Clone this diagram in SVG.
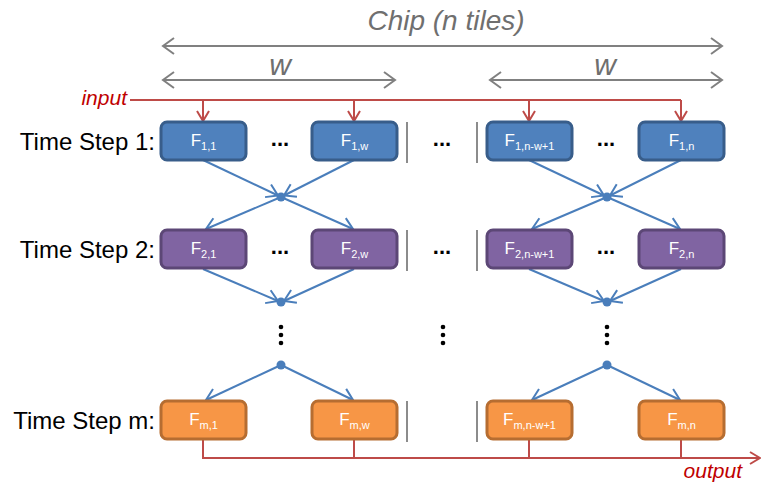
<svg xmlns="http://www.w3.org/2000/svg" width="761" height="486" viewBox="0 0 761 486">
<defs>
<style>
.lbl{font-family:"Liberation Sans",Arial,sans-serif;font-size:24px;fill:#000}
.ttl{font-family:"Liberation Sans",Arial,sans-serif;font-style:italic;fill:#6f6f6f}
.red{font-family:"Liberation Sans",Arial,sans-serif;font-style:italic;font-size:21px;fill:#c00000}
.ft{font-family:"Liberation Sans",Arial,sans-serif;font-size:17px;fill:#fff;text-anchor:middle}
.sub{font-size:11px}
.dots{font-family:"Liberation Sans",Arial,sans-serif;font-size:22px;font-weight:bold;fill:#000;text-anchor:middle}
.b1{fill:#4f81bd;stroke:#385d8a;stroke-width:3}
.b2{fill:#8064a2;stroke:#5c4776;stroke-width:3}
.b3{fill:#f79646;stroke:#b66d31;stroke-width:3}
.sep{stroke:#8c8c8c;stroke-width:2}
.gray{stroke:#808080;stroke-width:2;fill:none}
.blue{stroke:#4a7ebb;stroke-width:2;fill:none}
.redl{stroke:#be4b48;stroke-width:2;fill:none}
</style>
<marker id="ag" markerUnits="userSpaceOnUse" markerWidth="14" markerHeight="20" refX="12" refY="10" orient="auto-start-reverse"><path d="M1,2 L12,10 L1,18" fill="none" stroke="#808080" stroke-width="2"/></marker>
<marker id="ab" markerUnits="userSpaceOnUse" markerWidth="14" markerHeight="20" refX="12" refY="10" orient="auto"><path d="M1,3 L12,10 L1,17" fill="none" stroke="#4a7ebb" stroke-width="2"/></marker>
<marker id="ar" markerUnits="userSpaceOnUse" markerWidth="14" markerHeight="18" refX="12" refY="9" orient="auto"><path d="M2,3 L12,9 L2,15" fill="none" stroke="#be4b48" stroke-width="2"/></marker>
</defs>
<rect width="761" height="486" fill="#fff"/>

<g id="titles">
<text class="ttl" x="446" y="30" font-size="28" text-anchor="middle">Chip (n tiles)</text>
<text class="ttl" x="280" y="75" font-size="30" text-anchor="middle">w</text>
<text class="ttl" x="605" y="75" font-size="30" text-anchor="middle">w</text>
<text class="red" x="127" y="105" text-anchor="end">input</text>
<text class="red" x="742" y="478" text-anchor="end">output</text>
<text class="lbl" x="155" y="150" text-anchor="end">Time Step 1:</text>
<text class="lbl" x="155" y="258" text-anchor="end">Time Step 2:</text>
<text class="lbl" x="155" y="429" text-anchor="end">Time Step m:</text>
</g>

<g id="connectors">
<line class="gray" x1="163" y1="46" x2="722" y2="46" marker-start="url(#ag)" marker-end="url(#ag)"/>
<line class="gray" x1="163" y1="80" x2="395" y2="80" marker-start="url(#ag)" marker-end="url(#ag)"/>
<line class="gray" x1="490" y1="80" x2="722" y2="80" marker-start="url(#ag)" marker-end="url(#ag)"/>
<polyline class="redl" points="130,100 681,100"/>
<line class="redl" x1="203" y1="100" x2="203" y2="121" marker-end="url(#ar)"/>
<line class="redl" x1="354" y1="100" x2="354" y2="121" marker-end="url(#ar)"/>
<line class="redl" x1="529" y1="100" x2="529" y2="121" marker-end="url(#ar)"/>
<line class="redl" x1="681" y1="100" x2="681" y2="121" marker-end="url(#ar)"/>
<line class="blue" x1="203" y1="160" x2="278" y2="195.5" marker-end="url(#ab)"/>
<line class="blue" x1="354" y1="160" x2="284" y2="195.5" marker-end="url(#ab)"/>
<line class="blue" x1="529" y1="160" x2="604" y2="195.5" marker-end="url(#ab)"/>
<line class="blue" x1="681" y1="160" x2="610" y2="195.5" marker-end="url(#ab)"/>
<line class="blue" x1="281" y1="197" x2="206" y2="229" marker-end="url(#ab)"/>
<line class="blue" x1="281" y1="197" x2="353" y2="229" marker-end="url(#ab)"/>
<line class="blue" x1="607" y1="197" x2="532" y2="229" marker-end="url(#ab)"/>
<line class="blue" x1="607" y1="197" x2="680" y2="229" marker-end="url(#ab)"/>
<line class="blue" x1="203" y1="269" x2="278" y2="301" marker-end="url(#ab)"/>
<line class="blue" x1="354" y1="269" x2="284" y2="301" marker-end="url(#ab)"/>
<line class="blue" x1="529" y1="269" x2="604" y2="301" marker-end="url(#ab)"/>
<line class="blue" x1="681" y1="269" x2="610" y2="301" marker-end="url(#ab)"/>
<line class="blue" x1="281" y1="365" x2="206" y2="400" marker-end="url(#ab)"/>
<line class="blue" x1="281" y1="365" x2="353" y2="400" marker-end="url(#ab)"/>
<line class="blue" x1="607" y1="365" x2="532" y2="400" marker-end="url(#ab)"/>
<line class="blue" x1="607" y1="365" x2="680" y2="400" marker-end="url(#ab)"/>
<polyline class="redl" points="203,440 203,458 760,458" marker-end="url(#ar)"/>
<line class="redl" x1="354" y1="440" x2="354" y2="458"/>
<line class="redl" x1="529" y1="440" x2="529" y2="458"/>
<line class="redl" x1="681" y1="440" x2="681" y2="458"/>
</g>

<g id="junctions" fill="#4a7ebb">
<circle cx="281" cy="197" r="4.5"/><circle cx="607" cy="197" r="4.5"/>
<circle cx="281" cy="302" r="4.5"/><circle cx="607" cy="302" r="4.5"/>
<circle cx="281" cy="365" r="4.5"/><circle cx="607" cy="365" r="4.5"/>
</g>

<g id="separators">
<line class="sep" x1="407" y1="122" x2="407" y2="163"/><line class="sep" x1="477" y1="122" x2="477" y2="163"/>
<line class="sep" x1="407" y1="230" x2="407" y2="271"/><line class="sep" x1="477" y1="230" x2="477" y2="271"/>
<line class="sep" x1="407" y1="401" x2="407" y2="442"/><line class="sep" x1="477" y1="401" x2="477" y2="442"/>
</g>

<g id="ellipses">
<text class="dots" x="280" y="146">...</text>
<text class="dots" x="442" y="146">...</text>
<text class="dots" x="606" y="146">...</text>
<text class="dots" x="280" y="254">...</text>
<text class="dots" x="442" y="254">...</text>
<text class="dots" x="606" y="254">...</text>
<g fill="#000">
<circle cx="281" cy="327" r="2.3"/><circle cx="281" cy="335" r="2.3"/><circle cx="281" cy="343" r="2.3"/>
<circle cx="443" cy="327" r="2.3"/><circle cx="443" cy="335" r="2.3"/><circle cx="443" cy="343" r="2.3"/>
<circle cx="607" cy="327" r="2.3"/><circle cx="607" cy="335" r="2.3"/><circle cx="607" cy="343" r="2.3"/>
</g>
</g>

<g id="F11"><rect class="b1" x="161" y="122" width="85" height="38" rx="6"/><text class="ft" x="203.5" y="146">F<tspan class="sub" dy="4">1,1</tspan></text></g>
<g id="F1w"><rect class="b1" x="312" y="122" width="85" height="38" rx="6"/><text class="ft" x="354.5" y="146">F<tspan class="sub" dy="4">1,w</tspan></text></g>
<g id="F1nw1"><rect class="b1" x="487" y="122" width="85" height="38" rx="6"/><text class="ft" x="529.5" y="146">F<tspan class="sub" dy="4">1,n-w+1</tspan></text></g>
<g id="F1n"><rect class="b1" x="639" y="122" width="85" height="38" rx="6"/><text class="ft" x="681.5" y="146">F<tspan class="sub" dy="4">1,n</tspan></text></g>

<g id="F21"><rect class="b2" x="161" y="230" width="85" height="38" rx="6"/><text class="ft" x="203.5" y="254">F<tspan class="sub" dy="4">2,1</tspan></text></g>
<g id="F2w"><rect class="b2" x="312" y="230" width="85" height="38" rx="6"/><text class="ft" x="354.5" y="254">F<tspan class="sub" dy="4">2,w</tspan></text></g>
<g id="F2nw1"><rect class="b2" x="487" y="230" width="85" height="38" rx="6"/><text class="ft" x="529.5" y="254">F<tspan class="sub" dy="4">2,n-w+1</tspan></text></g>
<g id="F2n"><rect class="b2" x="639" y="230" width="85" height="38" rx="6"/><text class="ft" x="681.5" y="254">F<tspan class="sub" dy="4">2,n</tspan></text></g>

<g id="Fm1"><rect class="b3" x="161" y="401" width="85" height="38" rx="6"/><text class="ft" x="203.5" y="425">F<tspan class="sub" dy="4">m,1</tspan></text></g>
<g id="Fmw"><rect class="b3" x="312" y="401" width="85" height="38" rx="6"/><text class="ft" x="354.5" y="425">F<tspan class="sub" dy="4">m,w</tspan></text></g>
<g id="Fmnw1"><rect class="b3" x="487" y="401" width="85" height="38" rx="6"/><text class="ft" x="529.5" y="425">F<tspan class="sub" dy="4">m,n-w+1</tspan></text></g>
<g id="Fmn"><rect class="b3" x="639" y="401" width="85" height="38" rx="6"/><text class="ft" x="681.5" y="425">F<tspan class="sub" dy="4">m,n</tspan></text></g>
</svg>
